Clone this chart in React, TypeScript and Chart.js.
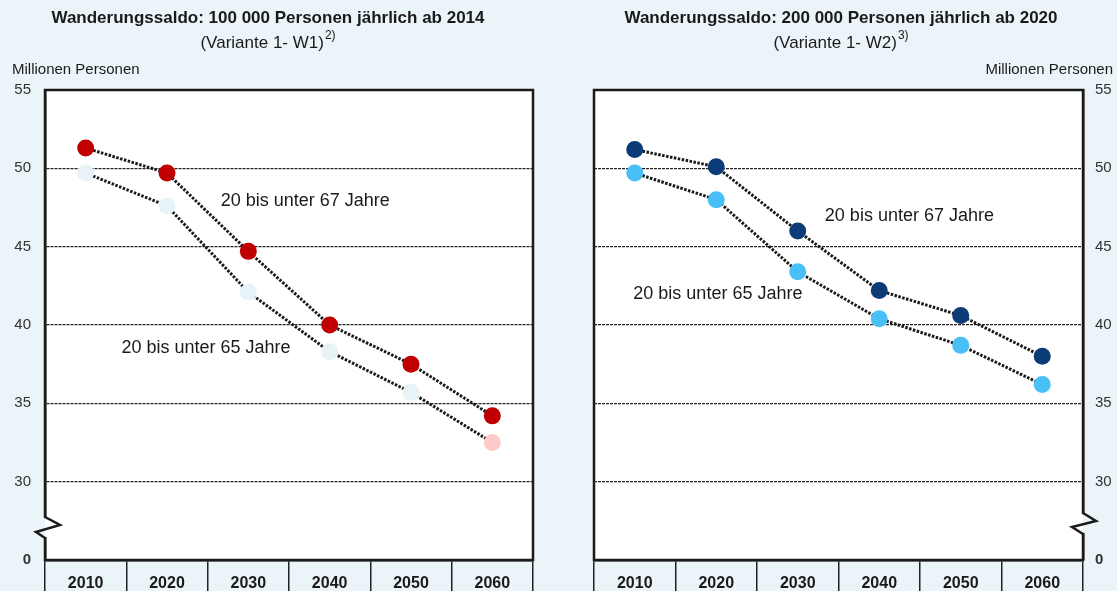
import React, { useEffect, useRef } from "react";
import { Chart, registerables } from "chart.js";

Chart.register(...registerables);

// ---------- data ----------
const years = ["2010", "2020", "2030", "2040", "2050", "2060"];

const w1Under67 = [51.3, 49.7, 44.7, 40.0, 37.5, 34.2];
const w1Under65 = [49.7, 47.6, 42.1, 38.3, 35.7, 32.5];
const w2Under67 = [51.2, 50.1, 46.0, 42.2, 40.6, 38.0];
const w2Under65 = [49.7, 48.0, 43.4, 40.4, 38.7, 36.2];

// visual axis: the value 25 stands for the broken-axis "0"
const yTickValues = [25, 30, 35, 40, 45, 50, 55];
const yTickLabels = ["0", "30", "35", "40", "45", "50", "55"];

const w1UpperColor = "#C00000";
const w1LowerColors = ["#E8F3F7", "#E8F3F7", "#E8F3F7", "#E8F3F7", "#E8F3F7", "#FFCACA"];
const w2UpperColor = "#0B3C78";
const w2LowerColors = ["#48BFF5", "#48BFF5", "#48BFF5", "#48BFF5", "#48BFF5", "#48BFF5"];

const label67 = "20 bis unter 67 Jahre";
const label65 = "20 bis unter 65 Jahre";

const FONT = "'Liberation Sans', Arial, Helvetica, sans-serif";
const BG = "#EBF4F8";
const INK = "#1a1a1a";

type Note = { text: string; xi: number; yv: number };
type PanelCfg = {
  title: string;
  subtitle: string;
  sup: string;
  side: "left" | "right";
  upper: number[];
  lower: number[];
  upperColor: string;
  lowerColors: string[];
  notes: Note[];
  titleX: number;
};

const panels: PanelCfg[] = [
  {
    title: "Wanderungssaldo: 100 000 Personen jährlich ab 2014",
    subtitle: "(Variante 1- W1)",
    sup: "2)",
    side: "left",
    upper: w1Under67,
    lower: w1Under65,
    upperColor: w1UpperColor,
    lowerColors: w1LowerColors,
    notes: [
      { text: label67, xi: 2.7, yv: 47.9 },
      { text: label65, xi: 1.48, yv: 38.5 },
    ],
    titleX: 268,
  },
  {
    title: "Wanderungssaldo: 200 000 Personen jährlich ab 2020",
    subtitle: "(Variante 1- W2)",
    sup: "3)",
    side: "right",
    upper: w2Under67,
    lower: w2Under65,
    upperColor: w2UpperColor,
    lowerColors: w2LowerColors,
    notes: [
      { text: label67, xi: 3.37, yv: 46.95 },
      { text: label65, xi: 1.02, yv: 41.98 },
    ],
    titleX: 281,
  },
];

function makePlugin(cfg: PanelCfg) {
  return {
    id: "frame",
    beforeDraw(chart: any) {
      const { ctx, chartArea: a, width, height } = chart;
      ctx.save();
      ctx.fillStyle = BG;
      ctx.fillRect(0, 0, width, height);
      ctx.fillStyle = "#ffffff";
      ctx.fillRect(a.left, a.top, a.right - a.left, a.bottom - a.top);
      ctx.restore();
    },
    afterDraw(chart: any) {
      const { ctx, chartArea: a, width } = chart;
      const xs = chart.scales.x;
      const ys = chart.scales.y;
      ctx.save();
      // frame
      ctx.strokeStyle = INK;
      ctx.lineWidth = 2.5;
      ctx.strokeRect(a.left, a.top, a.right - a.left, a.bottom - a.top);

      // axis break
      const isLeft = cfg.side === "left";
      const ax = isLeft ? a.left : a.right;
      const y0 = isLeft ? a.bottom - 42 : a.bottom - 46;
      const y3 = isLeft ? a.bottom - 23 : a.bottom - 27;
      ctx.fillStyle = isLeft ? BG : "#ffffff";
      ctx.fillRect(ax - 2.5, y0, 2.5, y3 - y0);
      ctx.fillStyle = isLeft ? "#ffffff" : BG;
      ctx.fillRect(ax, y0, 2.5, y3 - y0);
      ctx.beginPath();
      ctx.moveTo(ax, y0 - 1);
      if (isLeft) {
        ctx.lineTo(ax + 15, y0 + 7);
        ctx.lineTo(ax - 9, y0 + 14);
      } else {
        ctx.lineTo(ax + 13, y0 + 7);
        ctx.lineTo(ax - 11, y0 + 13);
      }
      ctx.lineTo(ax, y3 + 1);
      ctx.lineWidth = 2.5;
      ctx.lineJoin = "miter";
      ctx.strokeStyle = INK;
      ctx.stroke();

      // annotations
      ctx.fillStyle = INK;
      ctx.textBaseline = "middle";
      ctx.textAlign = "center";
      ctx.font = `18px ${FONT}`;
      cfg.notes.forEach((n) => {
        ctx.fillText(n.text, xs.getPixelForValue(n.xi), ys.getPixelForValue(n.yv));
      });

      // header
      ctx.font = `bold 17px ${FONT}`;
      ctx.fillText(cfg.title, cfg.titleX, 18);
      ctx.font = `17px ${FONT}`;
      const sw = ctx.measureText(cfg.subtitle).width;
      ctx.font = `12px ${FONT}`;
      const pw = ctx.measureText(cfg.sup).width;
      const x0 = cfg.titleX - (sw + pw + 1) / 2;
      ctx.textAlign = "left";
      ctx.font = `17px ${FONT}`;
      ctx.fillText(cfg.subtitle, x0, 43);
      ctx.font = `12px ${FONT}`;
      ctx.fillText(cfg.sup, x0 + sw + 1, 36);

      // unit
      ctx.font = `15px ${FONT}`;
      if (isLeft) {
        ctx.textAlign = "left";
        ctx.fillText("Millionen Personen", 12, 70);
      } else {
        ctx.textAlign = "right";
        ctx.fillText("Millionen Personen", width - 4, 70);
      }
      ctx.restore();
    },
  };
}

function Panel({ cfg, w, h }: { cfg: PanelCfg; w: number; h: number }) {
  const ref = useRef<HTMLCanvasElement | null>(null);
  useEffect(() => {
    if (!ref.current) return;
    const isLeft = cfg.side === "left";
    const lineStyle = {
      borderColor: INK,
      borderWidth: 3,
      borderDash: [2.5, 1.5],
      pointRadius: 8.5,
      pointHoverRadius: 8.5,
      pointBorderWidth: 0,
      tension: 0,
      fill: false,
    };
    const chart = new Chart(ref.current, {
      type: "line",
      data: {
        labels: years,
        datasets: [
          { ...lineStyle, label: label67, data: cfg.upper, pointBackgroundColor: cfg.upperColor },
          { ...lineStyle, label: label65, data: cfg.lower, pointBackgroundColor: cfg.lowerColors },
        ],
      },
      options: {
        responsive: false,
        devicePixelRatio: 1,
        animation: false,
        events: [],
        layout: {
          padding: isLeft
            ? { top: 90, right: 27, left: 0, bottom: 0 }
            : { top: 90, right: 0, left: 34, bottom: 0 },
        },
        plugins: {
          legend: { display: false },
          tooltip: { enabled: false },
          title: { display: false },
        },
        scales: {
          x: {
            type: "category",
            offset: true,
            grid: {
              offset: true,
              drawOnChartArea: false,
              drawTicks: true,
              tickLength: 40,
              color: "#222",
              lineWidth: 1.5,
            },
            border: { display: true, color: INK, width: 2.5 },
            ticks: {
              padding: -26,
              color: INK,
              font: { family: FONT, size: 16, weight: "bold" },
              maxRotation: 0,
              autoSkip: false,
            },
            afterFit: (s: any) => {
              s.height = 31;
            },
          },
          y: {
            type: "linear",
            position: isLeft ? "left" : "right",
            min: 25,
            max: 55,
            afterBuildTicks: (s: any) => {
              s.ticks = yTickValues.map((v) => ({ value: v }));
            },
            afterFit: (s: any) => {
              s.width = isLeft ? 45 : 34;
            },
            grid: {
              drawTicks: false,
              lineWidth: 1.2,
              color: (c: any) =>
                c.tick && (c.tick.value === 55 || c.tick.value === 25) ? "rgba(0,0,0,0)" : "#222",
            },
            border: { display: true, color: INK, width: 2.5, dash: [3, 1] },
            ticks: {
              padding: isLeft ? 14 : 12,
              color: "#333",
              font: (c: any) => ({
                family: FONT,
                size: 15,
                weight: c.tick && c.tick.value === 25 ? "bold" : "normal",
              }),
              callback: (v: any) => {
                const i = yTickValues.indexOf(Number(v));
                return i >= 0 ? yTickLabels[i] : "";
              },
            },
          },
        },
      },
      plugins: [makePlugin(cfg)],
    });
    return () => chart.destroy();
  }, [cfg]);
  return <canvas ref={ref} width={w} height={h} style={{ display: "block", width: w, height: h }} />;
}

export default function App() {
  return (
    <div
      style={{
        position: "fixed",
        left: 0,
        top: 0,
        width: 1117,
        height: 591,
        background: BG,
        display: "flex",
        overflow: "hidden",
      }}
    >
      <Panel cfg={panels[0]} w={560} h={591} />
      <Panel cfg={panels[1]} w={557} h={591} />
    </div>
  );
}
